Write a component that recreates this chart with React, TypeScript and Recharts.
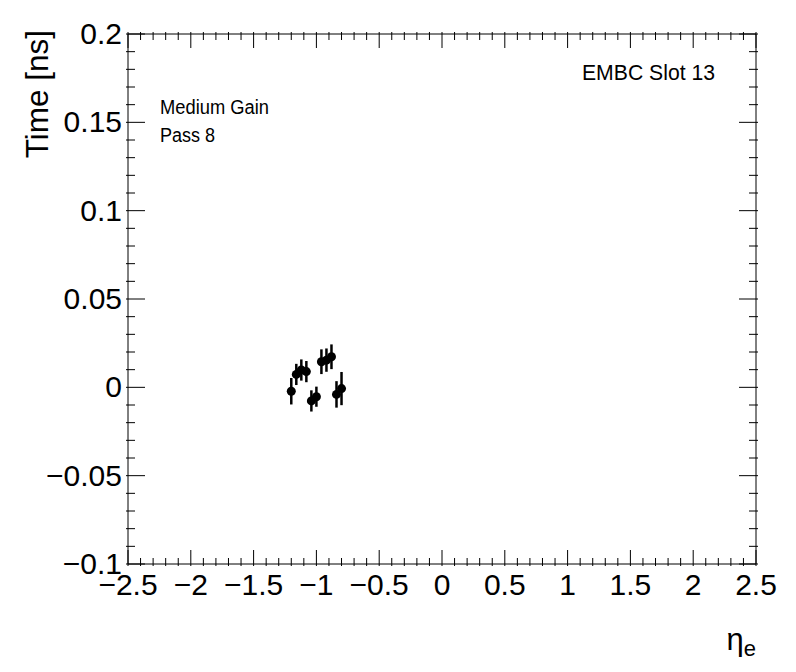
import React from 'react';
import { ScatterChart, Scatter, XAxis, YAxis, ErrorBar } from 'recharts';

// eta bins and timing offsets (ns)
const etaValues = [-1.2, -1.16, -1.12, -1.08, -1.04, -1.0, -0.96, -0.92, -0.88, -0.84, -0.8];
const timeValues = [-0.0022, 0.0073, 0.0098, 0.0089, -0.0077, -0.0053, 0.0145, 0.0154, 0.0173, -0.004, -0.0007];
const timeErrors = [0.0075, 0.006, 0.006, 0.006, 0.006, 0.0057, 0.007, 0.0066, 0.007, 0.0075, 0.0094];

const xMajorTicks = [-2.5, -2, -1.5, -1, -0.5, 0, 0.5, 1, 1.5, 2, 2.5];
const yMajorTicks = [-0.1, -0.05, 0, 0.05, 0.1, 0.15, 0.2];

const data = etaValues.map((eta, i) => ({ eta, time: timeValues[i], err: timeErrors[i] }));

// minor ticks: 5 subdivisions between majors
function withMinor(majors: number[]) {
  const out: number[] = [];
  for (let i = 0; i < majors.length - 1; i++) {
    const step = (majors[i + 1] - majors[i]) / 5;
    for (let k = 0; k < 5; k++) out.push(+(majors[i] + k * step).toFixed(4));
  }
  out.push(majors[majors.length - 1]);
  return out;
}
const xTicks = withMinor(xMajorTicks);
const yTicks = withMinor(yMajorTicks);

const isMajor = (v: number, majors: number[]) => majors.some((m) => Math.abs(m - v) < 1e-6);
const fmt = (v: number) => String(v).replace('-', '\u2212');

const FONT = '"Liberation Sans", Arial, Helvetica, sans-serif';

const BottomTick = (props: any) => {
  const { x, y, payload } = props;
  const major = isMajor(payload.value, xMajorTicks);
  return (
    <g>
      <line x1={x} x2={x} y1={y} y2={y - (major ? 16 : 8)} stroke="#000" strokeWidth={1} />
      {major && (
        <text x={x} y={y + 29} textAnchor="middle" fontSize={30} fontFamily={FONT} fill="#000">
          {fmt(payload.value)}
        </text>
      )}
    </g>
  );
};

const TopTick = (props: any) => {
  const { x, y, payload } = props;
  const major = isMajor(payload.value, xMajorTicks);
  return <line x1={x} x2={x} y1={y} y2={y + (major ? 16 : 8)} stroke="#000" strokeWidth={1} />;
};

const LeftTick = (props: any) => {
  const { x, y, payload } = props;
  const major = isMajor(payload.value, yMajorTicks);
  return (
    <g>
      <line x1={x} x2={x + (major ? 19 : 9)} y1={y} y2={y} stroke="#000" strokeWidth={1} />
      {major && (
        <text x={x - 4} y={y + 10} textAnchor="end" fontSize={30} fontFamily={FONT} fill="#000">
          {fmt(payload.value)}
        </text>
      )}
    </g>
  );
};

const RightTick = (props: any) => {
  const { x, y, payload } = props;
  const major = isMajor(payload.value, yMajorTicks);
  return <line x1={x} x2={x - (major ? 19 : 9)} y1={y} y2={y} stroke="#000" strokeWidth={1} />;
};

const Dot = (props: any) => <circle cx={props.cx} cy={props.cy} r={4.5} fill="#000" />;

export default function App() {
  return (
    <div style={{ position: 'absolute', left: 0, top: 0, width: 796, height: 672, background: '#fff' }}>
      <ScatterChart width={796} height={672} margin={{ top: 20, right: 20, bottom: 48, left: 68 }}>
        <XAxis
          xAxisId="b"
          type="number"
          dataKey="eta"
          domain={[-2.5, 2.5]}
          ticks={xTicks}
          interval={0}
          tick={<BottomTick />}
          tickLine={false}
          tickSize={0}
          height={60}
          axisLine={{ stroke: '#000' }}
          allowDataOverflow
        />
        <XAxis
          xAxisId="t"
          orientation="top"
          type="number"
          dataKey="eta"
          domain={[-2.5, 2.5]}
          ticks={xTicks}
          interval={0}
          tick={<TopTick />}
          tickLine={false}
          tickSize={0}
          height={14}
          axisLine={{ stroke: '#000' }}
          allowDataOverflow
        />
        <YAxis
          yAxisId="l"
          type="number"
          dataKey="time"
          domain={[-0.1, 0.2]}
          ticks={yTicks}
          interval={0}
          tick={<LeftTick />}
          tickLine={false}
          tickSize={0}
          width={60}
          axisLine={{ stroke: '#000' }}
          allowDataOverflow
        />
        <YAxis
          yAxisId="r"
          orientation="right"
          type="number"
          dataKey="time"
          domain={[-0.1, 0.2]}
          ticks={yTicks}
          interval={0}
          tick={<RightTick />}
          tickLine={false}
          tickSize={0}
          width={20}
          axisLine={{ stroke: '#000' }}
          allowDataOverflow
        />
        <Scatter data={data} xAxisId="b" yAxisId="l" shape={<Dot />} isAnimationActive={false}>
          <ErrorBar dataKey="err" direction="y" width={0} stroke="#000" strokeWidth={2.5} />
        </Scatter>
      </ScatterChart>
      <svg width={796} height={672} style={{ position: 'absolute', left: 0, top: 0, pointerEvents: 'none' }}>
        <text
          x={0}
          y={0}
          transform="translate(48,30) rotate(-90)"
          textAnchor="end"
          fontSize={31.5}
          fontFamily={FONT}
          fill="#000"
        >
          Time [ns]
        </text>
        <text x={756} y={650} textAnchor="end" fontSize={31} fontFamily={FONT} fill="#000">
          η<tspan fontSize={22} dy={6}>e</tspan>
        </text>
        <text x={582} y={80} fontSize={22} textLength={133} lengthAdjust="spacingAndGlyphs" fontFamily={FONT} fill="#000">
          EMBC Slot 13
        </text>
        <text x={160} y={114} fontSize={19.5} textLength={109} lengthAdjust="spacingAndGlyphs" fontFamily={FONT} fill="#000">
          Medium Gain
        </text>
        <text x={160} y={142} fontSize={19.5} textLength={55} lengthAdjust="spacingAndGlyphs" fontFamily={FONT} fill="#000">
          Pass 8
        </text>
      </svg>
    </div>
  );
}
